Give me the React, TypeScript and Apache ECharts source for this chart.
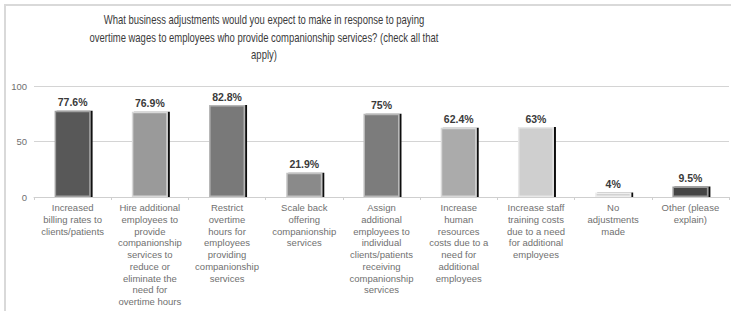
import React, { useEffect, useRef } from "react";
import * as echarts from "echarts";

const titleLines = [
  "What business adjustments would you expect to make in response to paying",
  "overtime wages to employees who provide companionship services? (check all that",
  "apply)",
];

const categories = [
  "Increased\nbilling rates to\nclients/patients",
  "Hire additional\nemployees to\nprovide\ncompanionship\nservices to\nreduce or\neliminate the\nneed for\novertime hours",
  "Restrict\novertime\nhours for\nemployees\nproviding\ncompanionship\nservices",
  "Scale back\noffering\ncompanionship\nservices",
  "Assign\nadditional\nemployees to\nindividual\nclients/patients\nreceiving\ncompanionship\nservices",
  "Increase\nhuman\nresources\ncosts due to a\nneed for\nadditional\nemployees",
  "Increase staff\ntraining costs\ndue to a need\nfor additional\nemployees",
  "No\nadjustments\nmade",
  "Other (please\nexplain)",
];

const values = [77.6, 76.9, 82.8, 21.9, 75, 62.4, 63, 4, 9.5];

const barColors = ["#585858", "#9a9a9a", "#797979", "#8a8a8a", "#7b7b7b", "#ababab", "#cfcfcf", "#d2d2d2", "#454545"];
const barBorders = ["#a0a0a0", "#d8d8d8", "#b5b5b5", "#c2c2c2", "#b8b8b8", "#d8d8d8", "#e8e8e8", "#eeeeee", "#9a9a9a"];

const yTicks = [0, 50, 100];

const FONT = "'Liberation Sans', Arial, sans-serif";

export default function App() {
  const ref = useRef<HTMLDivElement>(null);
  useEffect(() => {
    if (!ref.current) return;
    const chart = echarts.init(ref.current, null, { renderer: "svg" });
    chart.setOption({
      animation: false,
      backgroundColor: "#ffffff",
      graphic: [
        {
          type: "polyline",
          shape: { points: [[5, 320], [5, 5], [740, 5]] },
          style: { fill: "none", stroke: "#d9d9d9", lineWidth: 2 },
          silent: true,
          z: -1,
        },
        {
          type: "text",
          x: 264,
          y: 11,
          scaleX: 0.79,
          silent: true,
          style: {
            text: titleLines.join("\n"),
            fontFamily: FONT,
            fontSize: 12,
            lineHeight: 17.5,
            fill: "#3a3a3a",
            textAlign: "center",
            textVerticalAlign: "top",
          },
        },
      ],
      grid: { left: 34, right: 2, top: 86, bottom: 114, containLabel: false },
      xAxis: {
        type: "category",
        data: categories,
        axisLine: { show: true, lineStyle: { color: "#cfcfcf", width: 1 } },
        axisTick: { show: true, length: 3, lineStyle: { color: "#cfcfcf" } },
        axisLabel: {
          interval: 0,
          margin: 5,
          fontFamily: FONT,
          fontSize: 9.5,
          lineHeight: 11.7,
          color: "#707070",
          align: "center",
        },
      },
      yAxis: {
        type: "value",
        min: 0,
        max: 100,
        interval: 50,
        axisLine: { show: false },
        axisTick: { show: false },
        axisLabel: {
          margin: 7,
          fontFamily: FONT,
          fontSize: 9.5,
          color: "#707070",
          formatter: (v: number) => (yTicks.includes(v) ? String(v) : ""),
        },
        splitLine: { show: true, lineStyle: { color: "#d4d4d4", width: 1 } },
      },
      series: [
        {
          type: "bar",
          barWidth: 36,
          data: values.map((v, i) => ({
            value: v,
            itemStyle: {
              color: barColors[i],
              borderColor: barBorders[i],
              borderWidth: 1.5,
              shadowColor: "#111111",
              shadowOffsetX: 2,
              shadowOffsetY: 0,
              shadowBlur: 0,
            },
          })),
          label: {
            show: true,
            position: "top",
            distance: 3,
            formatter: (p: any) => p.value + "%",
            fontFamily: FONT,
            fontSize: 10.5,
            fontWeight: "bold",
            color: "#3a3a3a",
          },
        },
      ],
    });
    return () => chart.dispose();
  }, []);
  return <div ref={ref} style={{ width: 731, height: 311, position: "absolute", left: 0, top: 0 }} />;
}
